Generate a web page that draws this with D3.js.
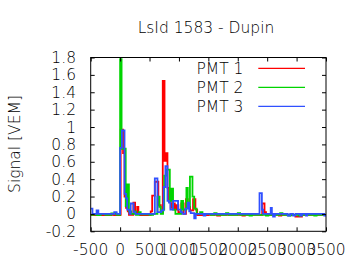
<!DOCTYPE html>
<html>
  <head>
    <meta charset="utf-8">
    <script src="https://d3js.org/d3.v7.min.js"></script>
    <style>
      body {margin:0; background:white;}
      text {font-family: "DejaVu Sans", sans-serif; font-weight:200; fill:#000;}
    </style>
  </head>
  <body>
    <div id="chart1"></div>
    <script>
      // step traces: [start time (ns), signal (VEM)], held until next start
      var pmt1 = [[-500,-0.015],[-150,-0.01],[-100,-0.015],[0,-0.01],[10,0.97],[50,0.7],[75,0.2],[100,0.07],[130,0.03],[150,-0.01],
        [225,0.13],[255,0.02],[290,0.08],[310,0.0],[340,-0.015],[480,-0.01],[520,0.03],[545,0.21],[590,0.37],[650,0.1],[690,0.02],
        [725,1.53],[755,0.61],[780,0.7],[805,0.3],[830,0.15],[860,0.07],[890,0.12],[930,0.05],[960,0.1],[990,0.02],[1040,0.12],
        [1080,0.0],[1120,0.17],[1150,0.08],[1190,0.04],[1240,0.17],[1280,0.05],[1310,-0.015],[1500,-0.01],[1650,-0.02],[1700,-0.01],
        [2080,-0.02],[2120,-0.01],[2415,0.12],[2455,0.02],[2480,-0.01],[2700,-0.02],[2740,-0.01],[2980,-0.03],[3030,-0.01],
        [3060,-0.03],[3090,-0.01]];
      var pmt2 = [[-500,-0.01],[-450,0.0],[-400,-0.015],[-330,0.0],[-250,-0.01],[-150,0.005],[-60,-0.01],[0,1.78],[25,0.75],
        [95,0.09],[125,0.34],[150,0.03],[190,0.0],[240,0.03],[270,-0.01],[320,0.02],[350,-0.005],[500,-0.01],[560,0.0],[635,0.2],
        [670,0.08],[690,0.0],[730,0.05],[750,0.44],[790,0.51],[845,0.15],[873,0.29],[900,0.05],[940,0.0],[1040,0.15],[1070,0.05],
        [1127,0.3],[1150,0.08],[1187,0.43],[1230,0.2],[1260,0.06],[1300,0.0],[1360,0.02],[1400,0.0],[1540,-0.01],[1600,0.01],
        [1640,-0.01],[1800,0.01],[1840,-0.01],[2000,0.01],[2040,-0.01],[2200,-0.02],[2240,-0.01],[2480,-0.02],[2520,-0.01],
        [2720,0.01],[2760,-0.01],[2860,-0.02],[2900,-0.01],[3040,-0.02],[3080,-0.01],[3300,-0.02],[3340,-0.01]];
      var pmt3 = [[-500,0.06],[-470,0.0],[-400,0.04],[-370,0.0],[-100,0.02],[-60,0.0],[0,0.76],[30,0.96],[75,0.23],[100,0.18],
        [120,0.05],[160,0.0],[180,0.12],[230,0.02],[260,0.0],[590,0.41],[635,0.02],[700,0.04],[740,0.31],[770,0.55],[805,0.15],
        [830,0.13],[855,0.05],[900,0.15],[985,0.05],[1030,0.02],[1060,0.0],[1110,0.06],[1150,0.13],[1175,0.03],[1200,0.01],
        [1260,-0.05],[1285,0.0],[1420,-0.02],[1450,0.0],[2370,0.24],[2410,0.05],[2430,0.0],[2560,0.07],[2580,0.0],[2600,-0.03],
        [2630,0.0],[2850,-0.02],[2890,0.0],[2940,-0.02],[2980,0.0],[3060,-0.02],[3090,0.0],[3160,-0.02],[3180,0.0],[3470,-0.02]];

      var series = [pmt1, pmt2, pmt3];
      var seriesNames = ["PMT 1", "PMT 2", "PMT 3"];
      var seriesColors = ["#ff0000", "#00d400", "#3050ff"];
      var xTicks = [-500, 0, 500, 1000, 1500, 2000, 2500, 3000, 3500];
      var yTicks = [-0.2, 0, 0.2, 0.4, 0.6, 0.8, 1, 1.2, 1.4, 1.6, 1.8];
      var title = "LsId 1583 - Dupin";
      var yLabel = "Signal [VEM]";

      var W = 360, H = 270;
      var plotL = 90.7, plotR = 326, plotT = 57.5, plotB = 231.3;

      var svg = d3.select("#chart1")
        .append("svg")
          .attr("width", W)
          .attr("height", H);

      var x = d3.scaleLinear().domain([-500, 3500]).range([plotL, plotR]);
      var y = d3.scaleLinear().domain([-0.2, 1.8]).range([plotB, plotT]);

      // traces
      svg.append("clipPath").attr("id", "plotclip")
        .append("rect").attr("x", plotL).attr("y", plotT).attr("width", plotR - plotL).attr("height", plotB - plotT);

      var line = d3.line()
        .x(function(d) { return x(d[0]); })
        .y(function(d) { return y(d[1]); })
        .curve(d3.curveStepAfter);

      for (var i = 0; i < series.length; i++) {
        var pts = series[i].concat([[3500, series[i][series[i].length - 1][1]]]);
        svg.append("path")
          .datum(pts)
          .attr("d", line)
          .attr("clip-path", "url(#plotclip)")
          .style("fill", "none")
          .style("stroke", seriesColors[i])
          .style("stroke-width", 1.8);
      }

      // frame and inward ticks on all sides
      function noDomain(g) { g.select(".domain").remove(); g.selectAll("line").style("stroke", "#000"); }
      svg.append("g")
        .attr("transform", "translate(0," + plotB + ")")
        .call(d3.axisBottom(x).tickValues(xTicks).tickSizeInner(-4).tickSizeOuter(0).tickFormat(""))
        .call(noDomain);
      svg.append("g")
        .attr("transform", "translate(0," + plotT + ")")
        .call(d3.axisTop(x).tickValues(xTicks).tickSizeInner(-4).tickSizeOuter(0).tickFormat(""))
        .call(noDomain);
      svg.append("g")
        .attr("transform", "translate(" + plotL + ",0)")
        .call(d3.axisLeft(y).tickValues(yTicks).tickSizeInner(-4).tickSizeOuter(0).tickFormat(""))
        .call(noDomain);
      svg.append("g")
        .attr("transform", "translate(" + plotR + ",0)")
        .call(d3.axisRight(y).tickValues(yTicks).tickSizeInner(-4).tickSizeOuter(0).tickFormat(""))
        .call(noDomain);

      svg.append("rect")
        .attr("x", plotL).attr("y", plotT)
        .attr("width", plotR - plotL).attr("height", plotB - plotT)
        .style("fill", "none").style("stroke", "#000").style("stroke-width", 1);

      // tick labels
      svg.selectAll(".xlab")
        .data(xTicks)
        .enter()
        .append("text")
          .attr("x", function(d) { return x(d); })
          .attr("y", 255)
          .attr("text-anchor", "middle")
          .style("font-size", "15.5px")
          .text(function(d) { return d; });

      svg.selectAll(".ylab")
        .data(yTicks)
        .enter()
        .append("text")
          .attr("x", 76)
          .attr("y", function(d) { return y(d) + 5.5; })
          .attr("text-anchor", "end")
          .style("font-size", "15.5px")
          .text(function(d) { return String(+d.toFixed(1)); });

      svg.append("text")
        .attr("x", 206)
        .attr("y", 33)
        .attr("text-anchor", "middle")
        .style("font-size", "15.5px")
        .text(title);

      svg.append("text")
        .attr("transform", "translate(20,144) rotate(-90)")
        .attr("text-anchor", "middle")
        .style("font-size", "15.5px")
        .text(yLabel);

      // legend
      for (var j = 0; j < seriesNames.length; j++) {
        var ly = 68.3 + j * 19;
        svg.append("text")
          .attr("x", 196.5)
          .attr("y", ly + 5.7)
          .style("font-size", "15.5px")
          .text(seriesNames[j]);
        svg.append("line")
          .attr("x1", 258.3).attr("x2", 305)
          .attr("y1", ly).attr("y2", ly)
          .style("stroke", seriesColors[j])
          .style("stroke-width", 1.2);
      }
    </script>
  </body>
</html>
